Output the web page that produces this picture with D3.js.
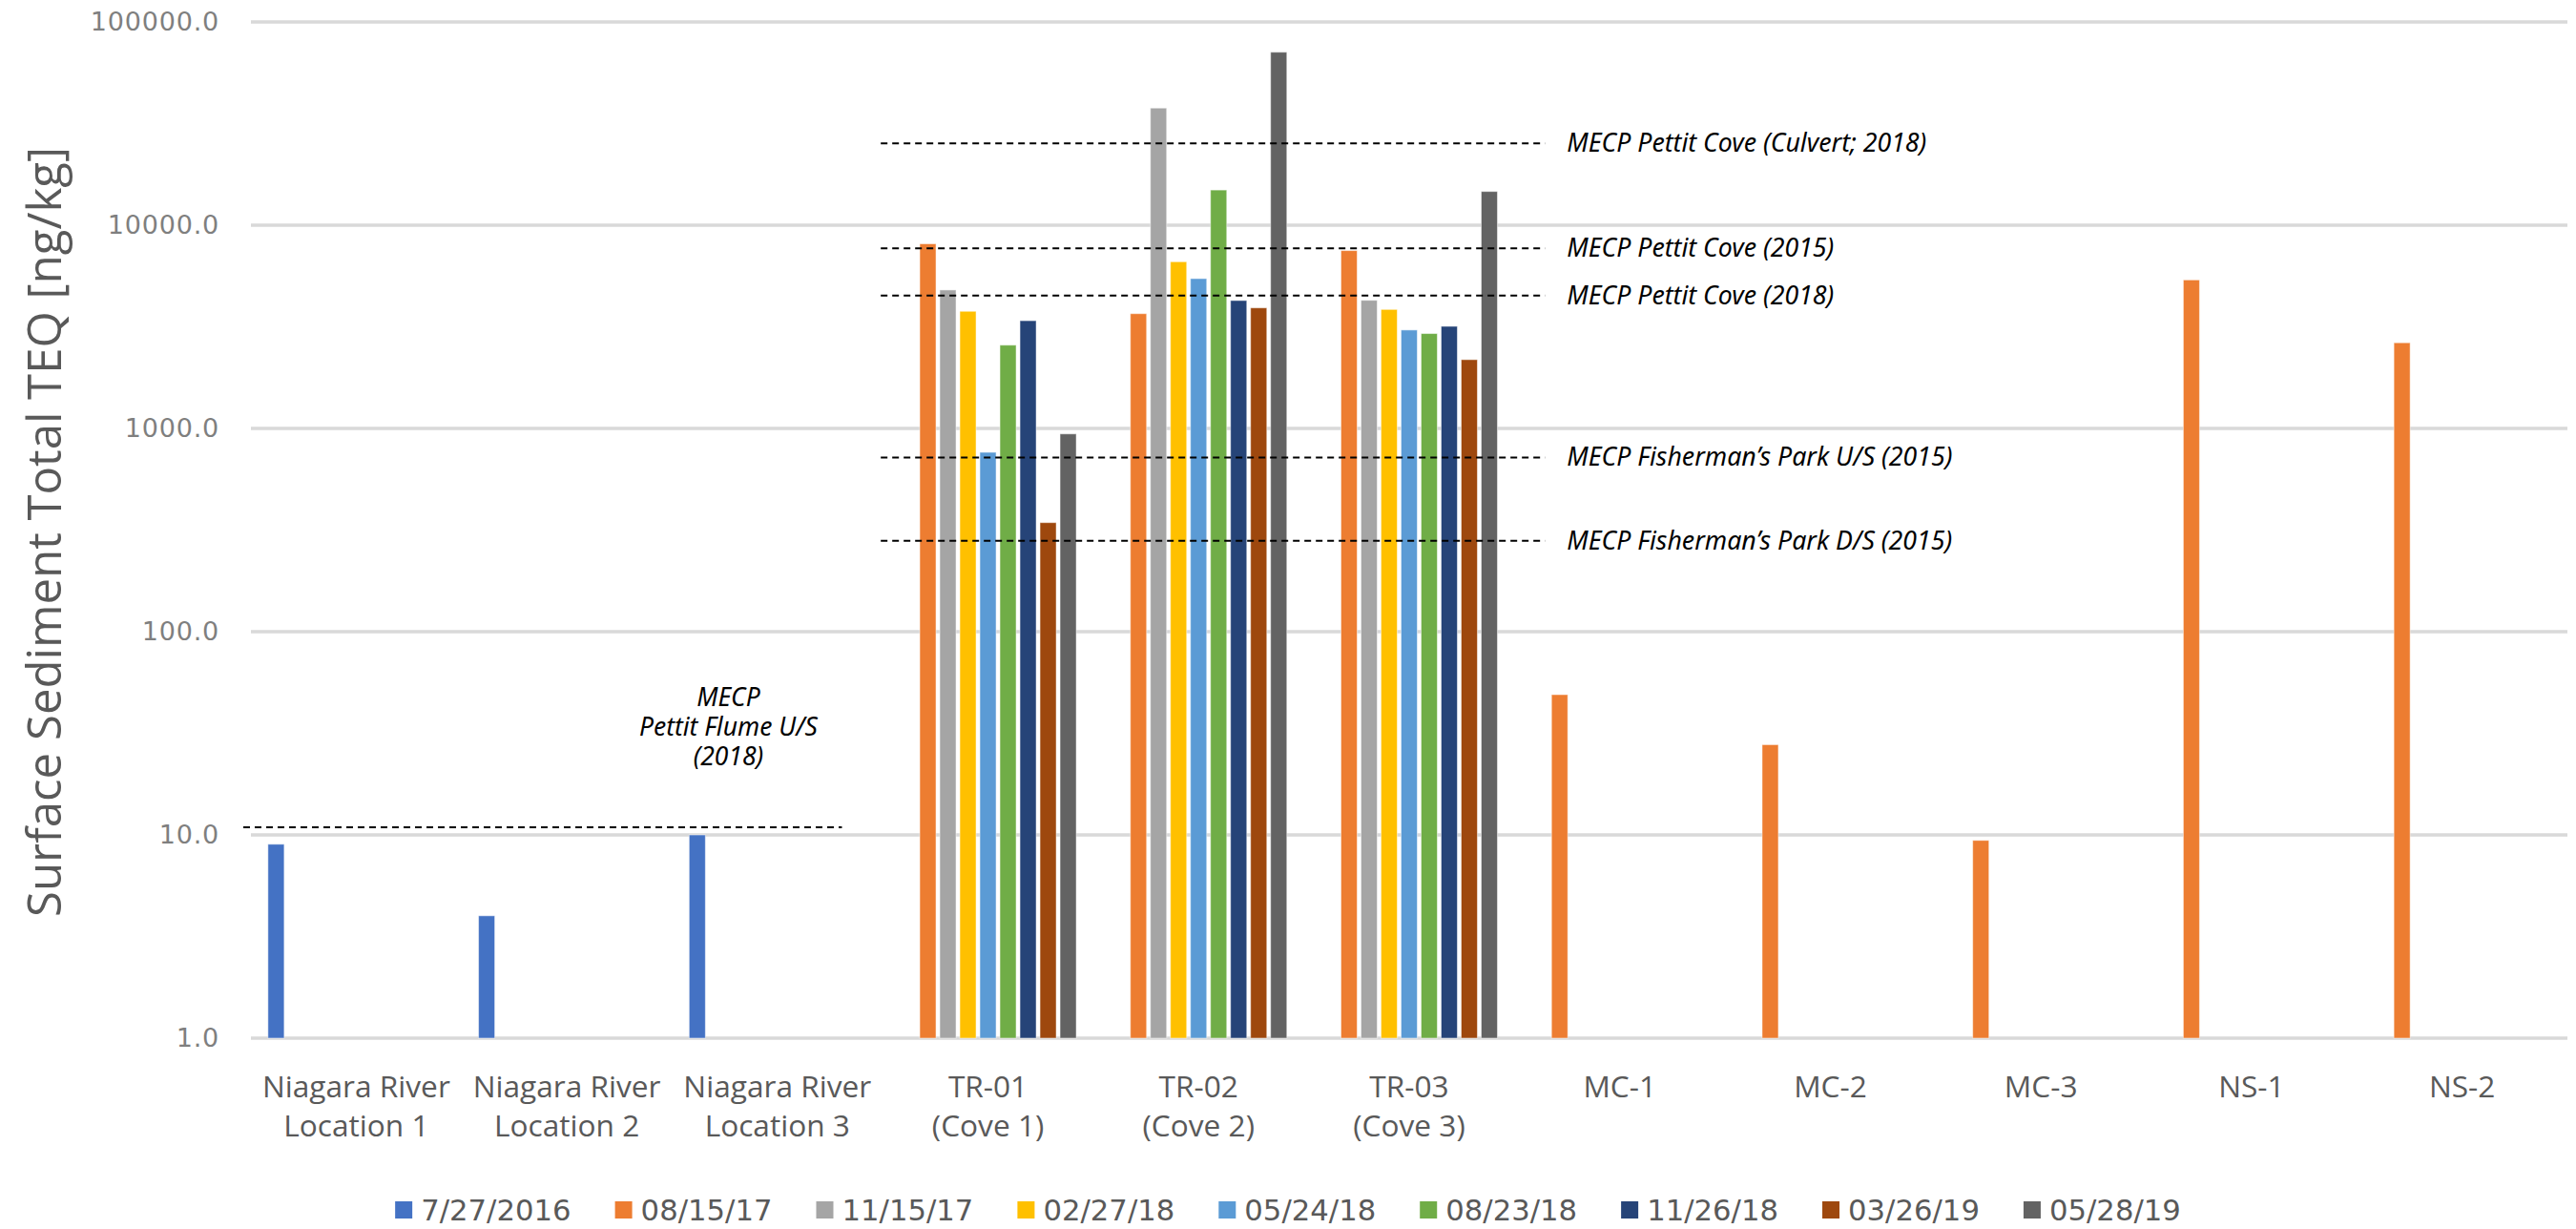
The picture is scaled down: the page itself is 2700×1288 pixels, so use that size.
<!DOCTYPE html>
<html>
<head>
<meta charset="utf-8">
<script src="https://cdn.jsdelivr.net/npm/d3@7"></script>
<style>
  body { margin: 0; background: #fff; }
  svg { display: block; }
</style>
</head>
<body>
<div id="plot"></div>
<script>
// sampling locations (x axis), each label split over lines
const categories = ["NR1", "NR2", "NR3", "TR-01", "TR-02", "TR-03", "MC-1", "MC-2", "MC-3", "NS-1", "NS-2"];
const categoryLabels = [
  ["Niagara River", "Location 1"], ["Niagara River", "Location 2"], ["Niagara River", "Location 3"],
  ["TR-01", "(Cove 1)"], ["TR-02", "(Cove 2)"], ["TR-03", "(Cove 3)"],
  ["MC-1"], ["MC-2"], ["MC-3"], ["NS-1"], ["NS-2"]
];

// sampling dates (series)
const seriesNames = ["7/27/2016", "08/15/17", "11/15/17", "02/27/18", "05/24/18", "08/23/18", "11/26/18", "03/26/19", "05/28/19"];
const seriesColors = ["#4472C4", "#ED7D31", "#A5A5A5", "#FFC000", "#5B9BD5", "#70AD47", "#264478", "#9E480E", "#636363"];

// Total TEQ [ng/kg], one value per category (null = not sampled)
const s20160727 = [9.0, 4.0, 10.0, null, null, null, null, null, null, null, null];
const s20170815 = [null, null, null, 8100, 3670, 7500, 49, 27.8, 9.4, 5380, 2640];
const s20171115 = [null, null, null, 4800, 37700, 4270, null, null, null, null, null];
const s20180227 = [null, null, null, 3770, 6610, 3850, null, null, null, null, null];
const s20180524 = [null, null, null, 763, 5460, 3050, null, null, null, null, null];
const s20180823 = [null, null, null, 2570, 14900, 2930, null, null, null, null, null];
const s20181126 = [null, null, null, 3390, 4260, 3180, null, null, null, null, null];
const s20190326 = [null, null, null, 344, 3920, 2180, null, null, null, null, null];
const s20190528 = [null, null, null, 940, 71000, 14650, null, null, null, null, null];
const seriesValues = [s20160727, s20170815, s20171115, s20180227, s20180524, s20180823, s20181126, s20190326, s20190528];

// MECP reference levels
const refLabels = ["MECP Pettit Cove (Culvert; 2018)", "MECP Pettit Cove (2015)", "MECP Pettit Cove (2018)",
  "MECP Fisherman\u2019s Park U/S (2015)", "MECP Fisherman\u2019s Park D/S (2015)"];
const refValues = [25300, 7700, 4500, 720, 280];
const flumeLabel = ["MECP", "Pettit Flume U/S", "(2018)"];
const flumeValue = 10.9;

const yTicks = [1, 10, 100, 1000, 10000, 100000];

window.addEventListener("load", main);

function main(){
  const width = 2700, height = 1288;
  const left = 263, right = 2691, top = 23, bottom = 1088;

  let svg = d3.select("#plot").append("svg")
    .attr("width", width)
    .attr("height", height);

  // pick a font size so that a sample string comes out at a given width
  function fitSize(family, style, sample, targetWidth){
    let t = svg.append("text")
      .attr("font-family", family)
      .attr("font-style", style)
      .attr("font-size", 100)
      .text(sample);
    let w = t.node().getComputedTextLength();
    t.remove();
    return 100 * targetWidth / w;
  }

  let x = d3.scaleBand().domain(categories).range([left, right]);
  let xs = d3.scaleBand().domain(seriesNames).range([0, x.bandwidth()])
    .paddingInner(0.19).paddingOuter(0.85);
  let y = d3.scaleLog().domain([1, 100000]).range([bottom, top]);

  // gridlines
  svg.append("g").attr("id", "grid")
    .selectAll("line")
    .data(yTicks)
    .join("line")
      .attr("x1", left).attr("x2", right)
      .attr("y1", d => y(d)).attr("y2", d => y(d))
      .attr("stroke", "#d9d9d9")
      .attr("stroke-width", 3.5);

  // y axis tick labels
  let yAxis = svg.append("g")
    .attr("transform", `translate(${left - 33},0)`)
    .call(d3.axisLeft(y).tickValues(yTicks).tickFormat(d3.format(".1f")).tickSize(0).tickPadding(0));
  yAxis.select(".domain").remove();
  yAxis.selectAll("text")
    .attr("font-family", "DejaVu Sans")
    .attr("font-size", 27)
    .attr("letter-spacing", 0.8)
    .attr("fill", "#7f7f7f");

  svg.append("text")
    .attr("transform", `translate(64,${(154 + 961) / 2}) rotate(-90)`)
    .attr("text-anchor", "middle")
    .attr("font-family", "Open Sans")
    .attr("font-size", 49)
    .attr("fill", "#595959")
    .attr("textLength", 807)
    .attr("lengthAdjust", "spacingAndGlyphs")
    .text("Surface Sediment Total TEQ [ng/kg]");

  // bars
  let barData = [];
  seriesValues.forEach((vals, si) => {
    vals.forEach((v, ci) => {
      if (v != null) barData.push({cat: categories[ci], series: seriesNames[si], color: seriesColors[si], value: v});
    });
  });
  svg.append("g").attr("id", "bars")
    .selectAll("rect")
    .data(barData)
    .join("rect")
      .attr("x", d => x(d.cat) + xs(d.series))
      .attr("width", xs.bandwidth())
      .attr("y", d => y(d.value))
      .attr("height", d => y(1) - y(d.value))
      .attr("fill", d => d.color)
      .attr("stroke", "#ffffff")
      .attr("stroke-opacity", 0.5)
      .attr("stroke-width", 1);

  // x axis labels
  let xFont = fitSize("Open Sans", "normal", "Niagara River", 197);
  let xAxis = svg.append("g")
    .attr("transform", `translate(0,${bottom})`)
    .call(d3.axisBottom(x).tickSize(0).tickFormat(""));
  xAxis.select(".domain").remove();
  xAxis.selectAll(".tick text").remove();
  xAxis.selectAll(".tick").each(function(d, i){
    let t = d3.select(this).append("text")
      .attr("text-anchor", "middle")
      .attr("font-family", "Open Sans")
      .attr("font-size", xFont)
      .attr("fill", "#595959");
    categoryLabels[i].forEach((line, j) => {
      t.append("tspan").attr("x", 0).attr("y", 62 + j * 41).text(line);
    });
  });

  // reference lines for the cove sites
  let refFont = fitSize("Noto Sans", "italic", refLabels[0], 377);
  let refG = svg.append("g").attr("id", "refs");
  let refX1 = x("TR-01") - 2, refX2 = x("TR-03") + x.bandwidth() + 32;
  refG.selectAll("line")
    .data(refValues)
    .join("line")
      .attr("x1", refX1).attr("x2", refX2)
      .attr("y1", d => y(d)).attr("y2", d => y(d))
      .attr("stroke", "#000")
      .attr("stroke-width", 2)
      .attr("stroke-dasharray", "7,5");
  refG.selectAll("text")
    .data(refValues)
    .join("text")
      .attr("x", refX2 + 23)
      .attr("y", d => y(d) + 9)
      .attr("font-family", "Noto Sans")
      .attr("font-style", "italic")
      .attr("font-size", refFont)
      .attr("fill", "#000")
      .text((d, i) => refLabels[i]);

  // Pettit Flume line over the river sites
  refG.append("line")
    .attr("x1", left - 8).attr("x2", x("NR3") + 178)
    .attr("y1", y(flumeValue)).attr("y2", y(flumeValue))
    .attr("stroke", "#000")
    .attr("stroke-width", 2)
    .attr("stroke-dasharray", "7,5");
  let flumeFont = fitSize("Noto Sans", "italic", flumeLabel[1], 187);
  let ft = refG.append("text")
    .attr("text-anchor", "middle")
    .attr("font-family", "Noto Sans")
    .attr("font-style", "italic")
    .attr("font-size", flumeFont)
    .attr("fill", "#000");
  flumeLabel.forEach((line, j) => {
    ft.append("tspan").attr("x", x("NR3") + 59).attr("y", y(flumeValue) - 127 + j * 31).text(line);
  });

  // legend
  let legend = svg.append("g").attr("id", "legend");
  let items = legend.selectAll("g")
    .data(seriesNames)
    .join("g");
  items.append("rect")
    .attr("width", 18).attr("height", 18)
    .attr("y", 1259)
    .attr("fill", (d, i) => seriesColors[i]);
  let legText = items.append("text")
    .attr("x", 27)
    .attr("y", 1279)
    .attr("font-family", "DejaVu Sans")
    .attr("font-size", 29)
    .attr("fill", "#595959")
    .text(d => d);
  const gap = 46;
  // scale the legend text so the whole row spans about 1872px
  let sumText = 0;
  legText.each(function(){ sumText += this.getComputedTextLength(); });
  let fixed = 27 * seriesNames.length + gap * (seriesNames.length - 1);
  let legFont = 29 * (1872 - fixed) / sumText;
  legText.attr("font-size", legFont);
  let widths = [];
  legText.each(function(){ widths.push(27 + this.getComputedTextLength()); });
  let total = d3.sum(widths) + gap * (widths.length - 1);
  let cx = width / 2 - total / 2;
  items.attr("transform", (d, i) => {
    let tx = cx;
    cx += widths[i] + gap;
    return `translate(${tx},0)`;
  });
}
</script>
</body>
</html>
